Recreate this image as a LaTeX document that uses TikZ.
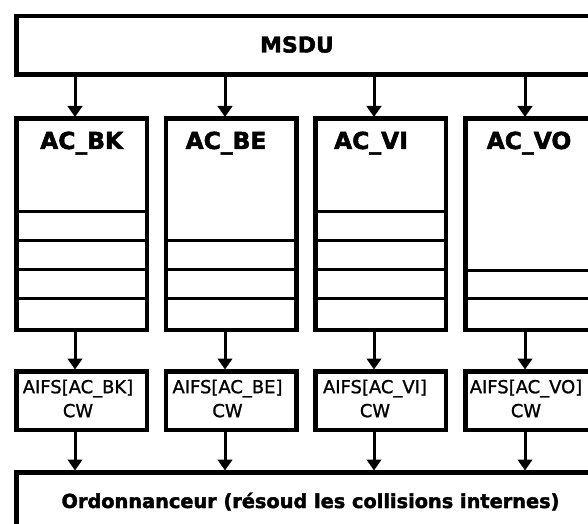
\documentclass[tikz,border=0pt]{standalone}
\usepackage{fontspec}
\setmainfont{DejaVu Sans}
\newfontfamily\heavy[FakeBold=2]{DejaVu Sans Bold}
\newfontfamily\medium[FakeBold=1.2]{DejaVu Sans}
\usetikzlibrary{arrows.meta}
\tikzset{
  box/.style={draw, line width=4.5bp, rectangle, inner sep=0pt, anchor=north west},
  sep/.style={line width=3bp},
  arr/.style={line width=3bp, -{Triangle[width=14.5bp,length=11bp]}, shorten >=-0.5bp},
  big/.style={font=\fontsize{22}{26}\heavy, anchor=base, inner sep=0pt},
  aclab/.style={font=\fontsize{23.5}{28}\heavy, anchor=base, inner sep=0pt},
  aifs/.style={font=\fontsize{18}{24}\medium, align=center, inner sep=0pt},
  sched/.style={font=\fontsize{19.4}{24}\heavy, anchor=base, inner sep=0pt},
}
\begin{document}
\begin{tikzpicture}[x=1bp,y=-1bp]
\useasboundingbox (0,0) rectangle (588,524);
% MSDU
\node[box, minimum width=600bp, minimum height=58.5bp] (msdu) at (14,14) {};
\node[big] (msdut) at (297,52.5) {MSDU};
% AC boxes
\node[box, minimum width=130.5bp, minimum height=211bp] (bk) at (14,116.5) {};
\node[box, minimum width=130.5bp, minimum height=211bp] (be) at (163.5,116.5) {};
\node[box, minimum width=130.5bp, minimum height=211bp] (vi) at (313,116.5) {};
\node[box, minimum width=130.5bp, minimum height=211bp] (vo) at (463,116.5) {};
\node[aclab] (bkt) at (81.7,149) {AC\_BK};
\node[aclab] (bet) at (226,149) {AC\_BE};
\node[aclab] (vit) at (371,149) {AC\_VI};
\node[aclab] (vot) at (529,149) {AC\_VO};
% queue separators
\foreach \y in {211.7,240,269,298} \draw[sep] (bk.west |- 0,\y) -- (bk.east |- 0,\y);
\foreach \y in {240,269,298} \draw[sep] (be.west |- 0,\y) -- (be.east |- 0,\y);
\foreach \y in {211.7,240,269,298} \draw[sep] (vi.west |- 0,\y) -- (vi.east |- 0,\y);
\foreach \y in {270,298.6} \draw[sep] (vo.west |- 0,\y) -- (vo.east |- 0,\y);
% AIFS boxes
\node[box, minimum width=130.5bp, minimum height=58.5bp] (abk) at (14,369) {};
\node[box, minimum width=130.5bp, minimum height=58.5bp] (abe) at (163.5,369) {};
\node[box, minimum width=130.5bp, minimum height=58.5bp] (avi) at (313,369) {};
\node[box, minimum width=130.5bp, minimum height=58.5bp] (avo) at (463,369) {};
\node[aifs] (abkt) at (78,398.5) {AIFS[AC\_BK]\\CW};
\node[aifs] (abet) at (227.5,398.5) {AIFS[AC\_BE]\\CW};
\node[aifs] (avit) at (375,398.5) {AIFS[AC\_VI]\\CW};
\node[aifs] (avot) at (526,398.5) {AIFS[AC\_VO]\\CW};
% Scheduler
\node[box, minimum width=600bp, minimum height=80bp] (sch) at (14,470) {};
\node[sched] (scht) at (310.5,508) {Ordonnanceur (résoud les collisions internes)};
% arrows
\foreach \x/\a/\b/\c in {75/bk/abk/sch, 225/be/abe/sch, 374/vi/avi/sch, 525/vo/avo/sch}{
  \draw[arr] (msdu.south -| \x,0) -- (\a.north -| \x,0);
  \draw[arr] (\a.south -| \x,0) -- (\b.north -| \x,0);
  \draw[arr] (\b.south -| \x,0) -- (\c.north -| \x,0);
}
\end{tikzpicture}
\end{document}
